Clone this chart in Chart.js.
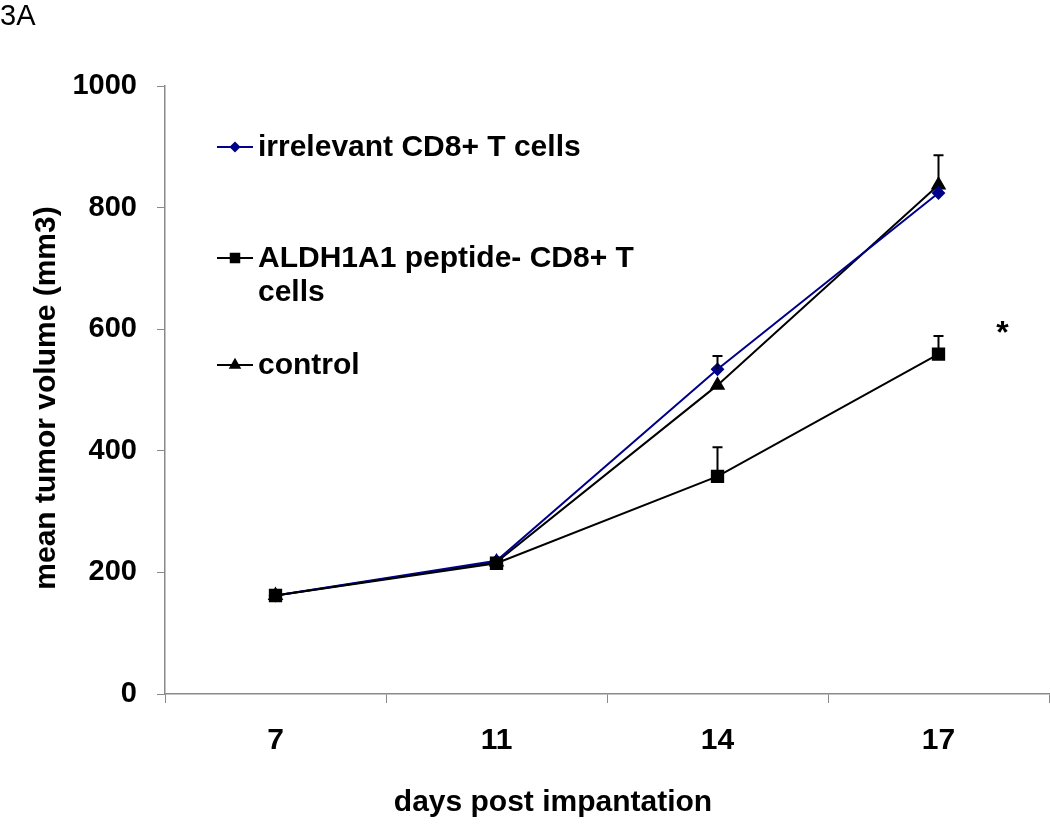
<!DOCTYPE html>
<html>
<head>
<meta charset="utf-8">
<script src="https://cdn.jsdelivr.net/npm/chart.js@4/dist/chart.umd.min.js"></script>
<style>
  html, body { margin: 0; padding: 0; background: #fff; }
  #wrap { width: 1050px; height: 824px; position: relative; }
</style>
</head>
<body>
<div id="wrap"><canvas id="c" width="1050" height="824"></canvas></div>
<script>
// ---- data ----
const days = ['7', '11', '14', '17'];
const irrelevantValues = [162, 219, 534, 824];
const aldhValues = [162, 215, 358, 559];
const controlValues = [162, 217, 508, 837];
// upper error bar extents (SEM), null where none shown
const irrelevantErr = [null, null, 22, null];
const aldhErr = [null, null, 48, 30];
const controlErr = [null, null, null, 49];
const yTicks = [0, 200, 400, 600, 800, 1000];
const seriesNames = ['irrelevant CD8+ T cells', ['ALDH1A1 peptide- CD8+ T', 'cells'], 'control'];
const panelLabel = '3A';
const xTitle = 'days post impantation';
const yTitle = 'mean tumor volume (mm3)';
const significance = { text: '*', xIndex: 3.29, value: 600 };

const FONT = "'Liberation Sans', Arial, sans-serif";
const AXIS_GRAY = '#8a8a8a';
const NAVY = '#00008B';

const errorBars = {
  id: 'errorBars',
  afterDatasetsDraw(chart) {
    const ctx = chart.ctx;
    const ys = chart.scales.y;
    ctx.save();
    chart.data.datasets.forEach((ds, i) => {
      const meta = chart.getDatasetMeta(i);
      (ds.errUp || []).forEach((e, j) => {
        if (e == null) return;
        const pt = meta.data[j];
        const yTop = ys.getPixelForValue(ds.data[j] + e);
        ctx.strokeStyle = '#000';
        ctx.lineWidth = 2;
        ctx.beginPath();
        ctx.moveTo(pt.x, pt.y);
        ctx.lineTo(pt.x, yTop);
        ctx.moveTo(pt.x - 5, yTop);
        ctx.lineTo(pt.x + 5, yTop);
        ctx.stroke();
      });
    });
    ctx.restore();
  }
};

const extras = {
  id: 'extras',
  afterDraw(chart) {
    const ctx = chart.ctx;
    const xs = chart.scales.x, ys = chart.scales.y;
    ctx.save();
    // panel label
    ctx.fillStyle = '#000';
    ctx.font = "29px " + FONT;
    ctx.textBaseline = 'top';
    ctx.textAlign = 'left';
    ctx.fillText(panelLabel, 0, 2);
    // axis titles
    ctx.font = "bold 30px " + FONT;
    ctx.textAlign = 'center';
    ctx.textBaseline = 'middle';
    ctx.fillText(xTitle, 553, 803);
    ctx.save();
    ctx.translate(47, 398);
    ctx.rotate(-Math.PI / 2);
    ctx.fillText(yTitle, 0, 0);
    ctx.restore();
    // significance asterisk
    const x0 = xs.getPixelForValue(3), x1 = xs.getPixelForValue(2);
    const ax = x0 + (significance.xIndex - 3) * (x0 - x1);
    ctx.font = "bold 32px " + FONT;
    ctx.fillText(significance.text, ax, ys.getPixelForValue(significance.value) + 5);
    // legend
    const rows = [147, 258, 365];
    [0, 1, 2].forEach((di, k) => {
      const ds = chart.data.datasets[di];
      const y = rows[k];
      ctx.strokeStyle = ds.borderColor;
      ctx.lineWidth = 2;
      ctx.beginPath();
      ctx.moveTo(217, y);
      ctx.lineTo(253, y);
      ctx.stroke();
      Chart.helpers.drawPoint(ctx, {
        pointStyle: ds.pointStyle, radius: ds.pointRadius * 0.75, borderWidth: 1
      }, 235, y);
      ctx.fillStyle = ds.pointBackgroundColor;
      ctx.fill();
      ctx.fillStyle = '#000';
      ctx.font = "bold 30px " + FONT;
      ctx.textAlign = 'left';
      ctx.textBaseline = 'middle';
      const name = seriesNames[di];
      const lines = Array.isArray(name) ? name : [name];
      lines.forEach((t, li) => ctx.fillText(t, 258, y + li * 34 + 1));
    });
    ctx.restore();
  }
};

new Chart(document.getElementById('c'), {
  type: 'line',
  data: {
    labels: days,
    datasets: [
      {
        label: 'irrelevant CD8+ T cells', data: irrelevantValues, errUp: irrelevantErr,
        borderColor: NAVY, backgroundColor: NAVY, pointBackgroundColor: NAVY, pointBorderColor: NAVY,
        pointStyle: 'rectRot', pointRadius: 5.5, borderWidth: 2, order: 1
      },
      {
        label: 'ALDH1A1 peptide- CD8+ T cells', data: aldhValues, errUp: aldhErr,
        borderColor: '#000', backgroundColor: '#000', pointBackgroundColor: '#000', pointBorderColor: '#000',
        pointStyle: 'rect', pointRadius: 8, borderWidth: 2, order: 0
      },
      {
        label: 'control', data: controlValues, errUp: controlErr,
        borderColor: '#000', backgroundColor: '#000', pointBackgroundColor: '#000', pointBorderColor: '#000',
        pointStyle: 'triangle', pointRadius: 7, borderWidth: 2, order: 2
      }
    ]
  },
  options: {
    responsive: false,
    animation: false,
    layout: { autoPadding: false, padding: { top: 86, right: 1, bottom: 0, left: 0 } },
    plugins: { legend: { display: false }, tooltip: { enabled: false } },
    elements: { line: { tension: 0 }, point: { hoverRadius: 0 } },
    scales: {
      x: {
        type: 'category',
        offset: true,
        grid: { offset: true, drawOnChartArea: false, color: AXIS_GRAY, tickLength: 9, lineWidth: 1 },
        border: { color: AXIS_GRAY, width: 1.5 },
        ticks: { color: '#000', font: { family: FONT, size: 30, weight: 'bold' }, padding: 20 },
        title: { display: false },
        afterFit(s) { s.height = 130; s.paddingLeft = 0; s.paddingRight = 0; }
      },
      y: {
        min: 0, max: 1000,
        afterBuildTicks(s) { s.ticks = yTicks.map(v => ({ value: v })); },
        grid: { drawOnChartArea: false, color: AXIS_GRAY, tickLength: 8, lineWidth: 1 },
        border: { color: AXIS_GRAY, width: 1.5 },
        ticks: { color: '#000', font: { family: FONT, size: 29, weight: 'bold' }, padding: 20,
                 callback: (v) => String(v) },
        title: { display: false },
        afterFit(s) { s.width = 165; }
      }
    }
  },
  plugins: [errorBars, extras]
});
</script>
</body>
</html>
